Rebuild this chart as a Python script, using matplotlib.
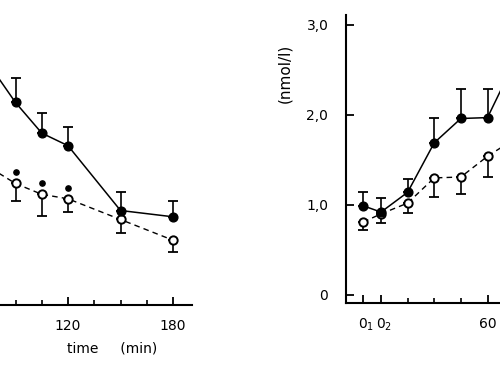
import matplotlib
matplotlib.use("Agg")
import matplotlib.pyplot as plt
from matplotlib.ticker import FixedLocator
from matplotlib.transforms import offset_copy, ScaledTranslation

# ---- data (left panel, partly cut off) ----
left_time = [75, 90, 105, 120, 150, 180]
left_filled = [2.58, 2.16, 1.82, 1.68, 0.96, 0.89]
left_filled_err = [0.25, 0.27, 0.22, 0.21, 0.21, 0.17]
left_open = [1.44, 1.26, 1.14, 1.09, 0.86, 0.63]
left_open_err = [0.20, 0.20, 0.24, 0.15, 0.15, 0.13]
left_signif = [90, 105, 120]

# ---- data (right panel, partly cut off) ----
right_time = [-10, 0, 15, 30, 45, 60, 75]
right_filled = [0.99, 0.92, 1.14, 1.69, 1.96, 1.97, 2.58]
right_filled_err = [0.15, 0.16, 0.15, 0.28, 0.33, 0.32, 0.30]
right_open = [0.81, 0.90, 1.02, 1.30, 1.31, 1.54, 1.73]
right_open_err = [0.09, 0.10, 0.11, 0.21, 0.19, 0.23, 0.20]

major_ticks = [-10, 0, 60, 120, 180]
left_major_labels = ["", "", "", "120", "180"]      # only these are visible
right_major_labels = ["$0_1$", "$0_2$", "60", "", ""]
minor_ticks = [15, 30, 45, 75, 90, 105, 135, 150, 165]
y_ticks = [0, 1, 2, 3]
y_labels = ["0", "1,0", "2,0", "3,0"]

W, H = 500, 375
fig = plt.figure(figsize=(5, 3.75), dpi=100)
fig.patch.set_facecolor("white")


def px_axes(x0, y_axis, width, height):
    # x0: left px, y_axis: bottom spine px from top
    return [x0 / W, (H - y_axis) / H, width / W, height / H]


XMIN = -19.5
YLIM = (-0.09, 3.11)

axL = fig.add_axes(px_axes(-142 + XMIN * 1.75, 305, (191 - XMIN) * 1.75, 288))
axR = fig.add_axes(px_axes(381 + XMIN * 1.775, 303, (190 - XMIN) * 1.775, 288))
axL.set_xlim(XMIN, 191)
axR.set_xlim(XMIN, 190)


def draw(ax, t, f, fe, o, oe):
    ax.errorbar(t, f, yerr=[[0] * len(fe), fe], fmt="none", ecolor="black",
                elinewidth=1.2, capsize=3.6, capthick=1.3, zorder=2)
    ax.errorbar(t, o, yerr=[oe, [0] * len(oe)], fmt="none", ecolor="black",
                elinewidth=1.2, capsize=3.6, capthick=1.3, zorder=2)
    ax.plot(t, o, color="black", lw=1.0, ls=(0, (4, 3)), marker="o",
            ms=6, mfc="white", mec="black", mew=1.4, zorder=3)
    ax.plot(t, f, color="black", lw=1.1, ls="-", marker="o",
            ms=6.3, mfc="black", mec="black", zorder=4)


draw(axL, left_time, left_filled, left_filled_err, left_open, left_open_err)
draw(axR, right_time, right_filled, right_filled_err, right_open, right_open_err)

# significance dots above open symbols
sig_y = [left_open[left_time.index(t)] for t in left_signif]
tr = offset_copy(axL.transData, fig=fig, x=0, y=11, units="dots")
axL.plot(left_signif, sig_y, "o", color="black", ms=3.8, transform=tr,
         zorder=5)

for ax, labels in ((axL, left_major_labels), (axR, right_major_labels)):
    ax.set_ylim(*YLIM)
    for s in ("top", "right"):
        ax.spines[s].set_visible(False)
    for s in ("left", "bottom"):
        ax.spines[s].set_linewidth(1.5)
    ax.xaxis.set_major_locator(FixedLocator(major_ticks))
    ax.set_xticklabels(labels)
    ax.xaxis.set_minor_locator(FixedLocator(minor_ticks))
    ax.set_yticks(y_ticks)
    ax.tick_params(axis="x", which="major", direction="in", length=6,
                   width=1.3, pad=10, labelsize=10)
    ax.tick_params(axis="x", which="minor", direction="in", length=3.3,
                   width=1.2)
    ax.tick_params(axis="y", which="major", direction="in", length=6,
                   width=1.3, pad=13, labelsize=10)

axL.tick_params(axis="y", labelleft=False)
axR.set_yticklabels(y_labels)
# shift the subscripted zero labels slightly right
for lab in axR.get_xticklabels()[:2]:
    lab.set_transform(lab.get_transform() +
                      ScaledTranslation(3 / 100, 0, fig.dpi_scale_trans))

fig.text(112 / W, 1 - 348 / H, "time     (min)", ha="center", va="center",
         fontsize=10)
fig.text(285 / W, 1 - 73 / H, "(nmol/l)", ha="center", va="center",
         rotation=90, fontsize=11)

fig.savefig("out.png", dpi=100, facecolor="white")
